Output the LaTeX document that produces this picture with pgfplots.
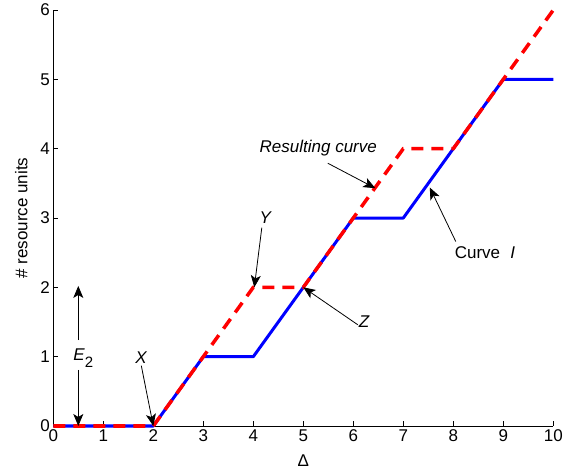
\documentclass[border=0pt]{standalone}
\usepackage{fontspec}
\setmainfont{Liberation Sans}
\usepackage{pgfplots}
\pgfplotsset{compat=1.18}
\usetikzlibrary{arrows.meta}

\newcommand{\fs}{\fontsize{17bp}{20bp}\selectfont}

\begin{document}
\begin{tikzpicture}[font=\fs]
\begin{axis}[
  scale only axis, width=500bp, height=416bp,
  xmin=0, xmax=10, ymin=0, ymax=6,
  axis x line=bottom, axis y line=left,
  axis line style={-, line width=0.6bp},
  xtick={0,...,10}, ytick={0,...,6},
  tick align=inside, major tick length=5bp,
  tick style={black, line width=0.6bp},
  ticklabel style={font=\fs},
  /pgf/number format/assume math mode=true,
  xlabel={Δ}, ylabel={\# resource units},
  xlabel style={yshift=-6bp}, ylabel style={yshift=6bp},
  clip=false,
]
% curve I
\addplot[blue, line width=3bp, line join=round] coordinates {
  (0,0) (2,0) (3,1) (4,1) (5,2) (6,3) (7,3) (8,4) (9,5) (10,5)};
% resulting curve
\addplot[red, line width=3.5bp, dash pattern=on 12bp off 8bp] coordinates {
  (0,0) (2,0) (4,2) (5,2) (7,4) (8,4) (10,6)};

\coordinate (o) at (rel axis cs:0,0);

\tikzset{ann/.style={black, line width=0.8bp, -{Stealth[length=12bp,width=10bp,inset=3bp]}}}

% E2
\node[inner sep=0pt] at (axis cs:0.6,0.98) {\textit{E}\raisebox{-7bp}{\fontsize{15bp}{15bp}\selectfont 2}};
\draw[ann] (axis cs:0.5,1.24) -- (axis cs:0.5,2.02);
\draw[ann] (axis cs:0.5,0.81) -- (axis cs:0.5,0);
% X
\node at (axis cs:1.76,0.98) {\textit{X}};
\draw[ann] (axis cs:1.76,0.87) -- (axis cs:2,0);
% Y
\node at (axis cs:4.25,3.0) {\textit{Y}};
\draw[ann] (axis cs:4.17,2.86) -- (axis cs:4.02,2.0);
% Z
\node at (axis cs:6.22,1.5) {\textit{Z}};
\draw[ann] (axis cs:6.09,1.46) -- (axis cs:5.0,2.0);
% Resulting curve
\node at (axis cs:5.30,4.01) {\textit{Resulting curve}};
\draw[ann] (axis cs:5.49,3.79) -- (axis cs:6.44,3.43);
% Curve I
\node[anchor=west] at (axis cs:7.96,2.5) {Curve\hspace{0.6em}\textit{I}};
\draw[ann] (axis cs:8.05,2.66) -- (axis cs:7.53,3.44);
\end{axis}
\path (o) ++(-53.3bp,-45bp) rectangle ++(575bp,471bp);
\end{tikzpicture}
\end{document}
